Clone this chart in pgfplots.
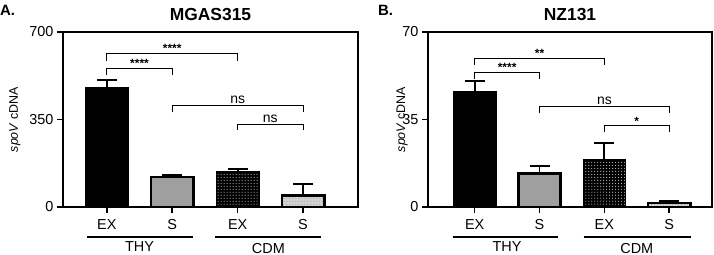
\documentclass[border=0pt]{standalone}
\usepackage{pgfplots}
\pgfplotsset{compat=1.18}
\usetikzlibrary{patterns}
\usepackage{fontspec}
\setmainfont{Liberation Sans}
\tikzset{
  ast/.style={anchor=south, inner sep=0.5bp, font=\fontsize{12}{14}\selectfont\bfseries},
  nsl/.style={anchor=south, inner sep=1.5bp, font=\fontsize{14}{16}\selectfont},
  grp/.style={inner sep=0, font=\fontsize{14.5}{16}\selectfont},
}
\begin{document}
\begin{tikzpicture}
\useasboundingbox (0bp,0bp) rectangle (714bp,255bp);
\pgfplotsset{
  mybase/.style={
    scale only axis, height=175bp,
    axis line style={line width=1.5bp},
    tick pos=left, tick align=outside, major tick length=6bp,
    tick style={line width=1.5bp, black},
    xtick={0,1,2,3}, xticklabels={EX,S,EX,S},
    ticklabel style={font=\fontsize{14.5}{16}\selectfont},
    xticklabel style={yshift=-3bp},
    /pgf/number format/assume math mode=true,
    ymin=0, clip=false,
    ybar, bar width=0.65, bar shift=0pt,
    title style={font=\bfseries\fontsize{17.5}{19}\selectfont, at={(0.5,1)}, anchor=center, yshift=12bp},
    ylabel={\textit{spoV} cDNA},
  },
  eb/.style={error bars/.cd, y dir=plus, y explicit,
    error bar style={line width=1.8bp, black},
    error mark options={rotate=90, mark size=10bp, line width=1.8bp, black}},
  b1/.style={fill=black, draw=black, line width=1.5bp},
  b2/.style={fill=gray!75, draw=black, line width=2.5bp},
  b3/.style={fill=black, draw=black, line width=1.5bp, postaction={pattern=dots, pattern color=white}},
  b4/.style={fill=gray!35, draw=black, line width=2.5bp, postaction={pattern=dots, pattern color=gray}},
}
% Panel A
\begin{axis}[mybase, at={(63bp,48bp)}, anchor=south west, width=295bp,
  xmin=-0.67, xmax=3.84, ymax=700, ytick={0,350,700},
  title={MGAS315},
  ylabel style={at={(axis description cs:-0.163,0.5)}, anchor=center, font=\fontsize{12.5}{14}\selectfont}]
\addplot[b1, eb] coordinates {(0,477) +- (0,31)};
\addplot[b2, eb] coordinates {(1,121) +- (0,7)};
\addplot[b3, eb] coordinates {(2,140) +- (0,12)};
\addplot[b4, eb] coordinates {(3,47) +- (0,44)};
\draw[line width=1bp] (axis cs:0,584) -- (axis cs:0,615) -- (axis cs:2,615) -- (axis cs:2,584);
\node[ast] at (axis cs:1,615) {****};
\draw[line width=1bp] (axis cs:0,529) -- (axis cs:0,555) -- (axis cs:1,555) -- (axis cs:1,529);
\node[ast] at (axis cs:0.5,555) {****};
\draw[line width=1bp] (axis cs:1,379) -- (axis cs:1,407) -- (axis cs:3,407) -- (axis cs:3,379);
\node[nsl] at (axis cs:2,407) {ns};
\draw[line width=1bp] (axis cs:2,308) -- (axis cs:2,332) -- (axis cs:3,332) -- (axis cs:3,308);
\node[nsl] at (axis cs:2.5,332) {ns};
\draw[line width=2bp] (axis cs:-0.31,-120) -- (axis cs:1.31,-120);
\draw[line width=2bp] (axis cs:1.65,-120) -- (axis cs:3.28,-120);
\node[grp] at (axis cs:0.5,-160) {THY};
\node[grp] at (axis cs:2.47,-166) {CDM};
\end{axis}
% Panel B
\begin{axis}[mybase, at={(428bp,48bp)}, anchor=south west, width=284bp,
  xmin=-0.72, xmax=3.66, ymax=70, ytick={0,35,70},
  title={NZ131},
  ylabel style={at={(axis description cs:-0.091,0.5)}, anchor=center, font=\fontsize{12.5}{14}\selectfont}]
\addplot[b1, eb] coordinates {(0,46.1) +- (0,4.4)};
\addplot[b2, eb] coordinates {(1,13.5) +- (0,2.9)};
\addplot[b3, eb] coordinates {(2,18.8) +- (0,6.7)};
\addplot[b4, eb] coordinates {(3,1.7) +- (0,0.8)};
\draw[line width=1bp] (axis cs:0,56.8) -- (axis cs:0,59.5) -- (axis cs:2,59.5) -- (axis cs:2,56.8);
\node[ast] at (axis cs:1,59.5) {**};
\draw[line width=1bp] (axis cs:0,51.2) -- (axis cs:0,53.9) -- (axis cs:1,53.9) -- (axis cs:1,51.2);
\node[ast] at (axis cs:0.5,53.9) {****};
\draw[line width=1bp] (axis cs:1,37.5) -- (axis cs:1,40.1) -- (axis cs:3,40.1) -- (axis cs:3,37.5);
\node[nsl] at (axis cs:2,40.1) {ns};
\draw[line width=1bp] (axis cs:2,30) -- (axis cs:2,32.5) -- (axis cs:3,32.5) -- (axis cs:3,30);
\node[ast] at (axis cs:2.5,32.5) {*};
\draw[line width=2bp] (axis cs:-0.34,-12) -- (axis cs:1.29,-12);
\draw[line width=2bp] (axis cs:1.68,-12) -- (axis cs:3.34,-12);
\node[grp] at (axis cs:0.5,-16) {THY};
\node[grp] at (axis cs:2.5,-16.6) {CDM};
\end{axis}
\node[anchor=west, inner sep=0, font=\bfseries\fontsize{15}{17}\selectfont] at (0bp,245bp) {A.};
\node[anchor=west, inner sep=0, font=\bfseries\fontsize{15}{17}\selectfont] at (378bp,245bp) {B.};
\end{tikzpicture}
\end{document}
